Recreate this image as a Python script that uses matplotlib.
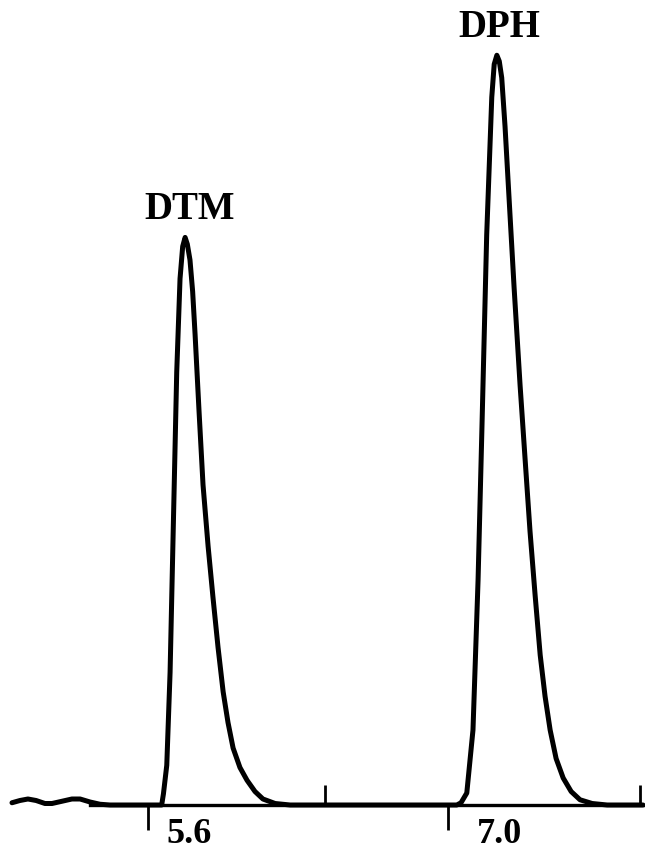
import numpy as np
import matplotlib.pyplot as plt

# Chromatogram trace (time in min, relative response)
baseline_t = [4.797, 4.833, 4.869, 4.906, 4.946, 4.978, 5.023, 5.068, 5.105,
              5.150, 5.195, 5.240, 5.474]
baseline_y = [0.3, 0.6, 0.8, 0.6, 0.2, 0.2, 0.5, 0.8, 0.8,
              0.4, 0.1, 0.0, 0.0]

dtm_t = [5.482, 5.497, 5.512, 5.527, 5.542, 5.557, 5.569, 5.580, 5.590, 5.602,
         5.614, 5.625, 5.643, 5.661, 5.684, 5.706, 5.729, 5.752, 5.774, 5.797,
         5.828, 5.860, 5.896, 5.932, 5.987, 6.055]
dtm_y = [1.5, 5.3, 17.7, 37.7, 57.7, 70.2, 74.5, 75.7, 74.8, 72.7,
         68.5, 62.8, 52.5, 42.7, 34.5, 27.7, 21.0, 15.1, 11.0, 7.6,
         5.0, 3.3, 1.8, 0.8, 0.2, 0.0]

dph_t = [6.809, 6.828, 6.854, 6.882, 6.905, 6.922, 6.944, 6.967, 6.978, 6.990,
         7.001, 7.012, 7.027, 7.042, 7.068, 7.095, 7.118, 7.140, 7.163, 7.186,
         7.208, 7.231, 7.258, 7.290, 7.326, 7.366, 7.421, 7.489, 7.651]
dph_y = [0.0, 0.3, 1.6, 10.0, 30.0, 49.7, 76.0, 94.4, 98.8, 100.0,
         99.2, 97.0, 90.5, 82.6, 69.0, 56.0, 46.0, 36.5, 28.0, 20.0,
         14.5, 10.0, 6.2, 3.6, 1.8, 0.7, 0.2, 0.0, 0.0]

# peaks: name, retention time label, height
peak_names = ["DTM", "DPH"]
peak_rt = [5.6, 7.0]
rt_labels = ["5.6", "7.0"]
peak_h = [75.7, 100.0]

# axis tick marks (down ticks and up ticks)
down_ticks = [5.412, 6.769]
up_ticks = [6.213, 7.638]

t = baseline_t + dtm_t + dph_t
y = baseline_y + dtm_y + dph_y

plt.rcParams['font.family'] = ['Liberation Serif', 'DejaVu Serif']

fig = plt.figure(figsize=(6.45, 8.46), dpi=100)
ax = fig.add_axes([12 / 645, 41 / 846, 631 / 645, 800 / 846])

ax.plot(t, y, color="black", lw=3.6, solid_joinstyle="round",
        solid_capstyle="round", clip_on=False, zorder=3)

ax.set_xlim(4.797, 7.651)
ax.set_ylim(0, 106.7)

# peak names above the apex, retention times below the axis
for name, rt, lab, ph in zip(peak_names, peak_rt, rt_labels, peak_h):
    ax.annotate(name, (rt, ph), xytext=(0, 7), textcoords="offset points",
                ha="center", va="bottom", fontsize=28, fontweight="bold")
    ax.annotate(lab, (rt, 0), xytext=(0, -9), textcoords="offset points",
                ha="center", va="top", fontsize=26, fontweight="bold",
                annotation_clip=False)

# axis styling
for s in ["left", "right", "top"]:
    ax.spines[s].set_visible(False)
ax.spines["bottom"].set_linewidth(2.4)
ax.spines["bottom"].set_bounds(5.15, 7.651)
ax.set_yticks([])

ax.set_xticks(down_ticks)
ax.set_xticklabels([])
ax.set_xticks(up_ticks, minor=True)
ax.tick_params(axis="x", which="major", direction="out", length=18, width=2.0)
ax.tick_params(axis="x", which="minor", direction="in", length=14.5, width=2.0)

fig.savefig("out.png", dpi=100)
